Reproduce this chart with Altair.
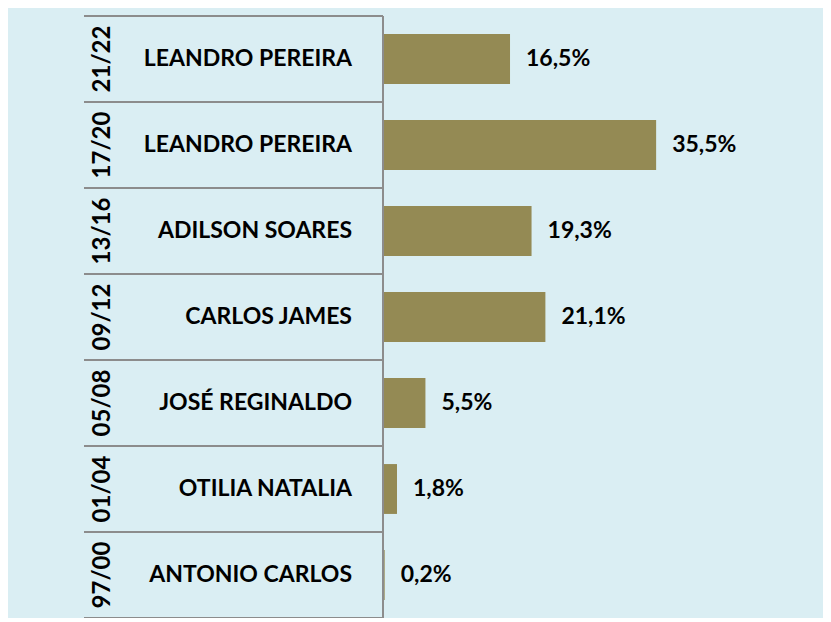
import altair as alt
import pandas as pd

periods = ["21/22", "17/20", "13/16", "09/12", "05/08", "01/04", "97/00"]
names = ["LEANDRO PEREIRA", "LEANDRO PEREIRA", "ADILSON SOARES", "CARLOS JAMES",
         "JOSÉ REGINALDO", "OTILIA NATALIA", "ANTONIO CARLOS"]
values = [16.5, 35.5, 19.3, 21.1, 5.5, 1.8, 0.2]

df = pd.DataFrame({"period": periods, "name": names, "value": values})

FONT = "Lato"
BAR = "#948A54"
LINE = "#8C8C8C"
TABLE_W = 299  # pixel width of the label table left of the bars

y_band = alt.Y("period:N", sort=periods,
               scale=alt.Scale(paddingInner=0, paddingOuter=0), axis=None)

base = alt.Chart(df)

bars = base.mark_bar(color=BAR, height={"band": 0.58}).encode(
    y=y_band,
    x=alt.X("value:Q", scale=alt.Scale(domain=[-38.9, 57.2], nice=False, zero=False),
            axis=None),
    x2=alt.datum(0),
)

top_lines = base.mark_rule(color=LINE, strokeWidth=2).encode(
    y=alt.Y("period:N", sort=periods, bandPosition=0),
    x=alt.value(0), x2=alt.value(TABLE_W)
)
bottom_line = base.transform_filter(alt.datum.period == periods[-1]).mark_rule(
    color=LINE, strokeWidth=2).encode(
    y=alt.Y("period:N", sort=periods, bandPosition=1),
    x=alt.value(0), x2=alt.value(TABLE_W)
)
axis_line = base.transform_filter(alt.datum.period == periods[0]).mark_rule(
    color=LINE, strokeWidth=2).encode(
    x=alt.value(TABLE_W), y=alt.value(0), y2=alt.value(612)
)
# invisible spacer far to the left (outside the drawing), keeps content bounds off-screen
spacer = base.transform_filter(alt.datum.period == periods[0]).mark_rule(
    strokeOpacity=0, color="#DAEEF3").encode(
    x=alt.value(-150), y=alt.value(0), y2=alt.value(612)
)

vals = base.transform_calculate(
    lab="replace(format(datum.value, '.1f'), '.', ',') + '%'"
).mark_text(align="left", baseline="middle", dx=16, font=FONT, fontWeight="bold",
            fontSize=23, color="#000000").encode(
    y=alt.Y("period:N", sort=periods), x="value:Q", text="lab:N"
)

name_txt = base.mark_text(align="right", baseline="middle", font=FONT, fontWeight="bold",
                          fontSize=23, color="#000000").encode(
    y=alt.Y("period:N", sort=periods), x=alt.value(TABLE_W - 31), text="name:N"
)

period_txt = base.mark_text(align="center", baseline="middle", angle=270, font=FONT,
                            fontWeight="bold", fontSize=24, color="#000000").encode(
    y=alt.Y("period:N", sort=periods), x=alt.value(19), text="period:N"
)

chart = alt.layer(spacer, bars, top_lines, bottom_line, axis_line, vals, name_txt,
                  period_txt).properties(
    width=739, height=602,
    autosize=alt.AutoSizeParams(type="none"),
    padding={"left": 76, "top": 8, "right": 0, "bottom": 0},
    background="#DAEEF3",
).configure_view(stroke=None)

chart.save("out.html", embed_options={"renderer": "svg", "actions": False})
